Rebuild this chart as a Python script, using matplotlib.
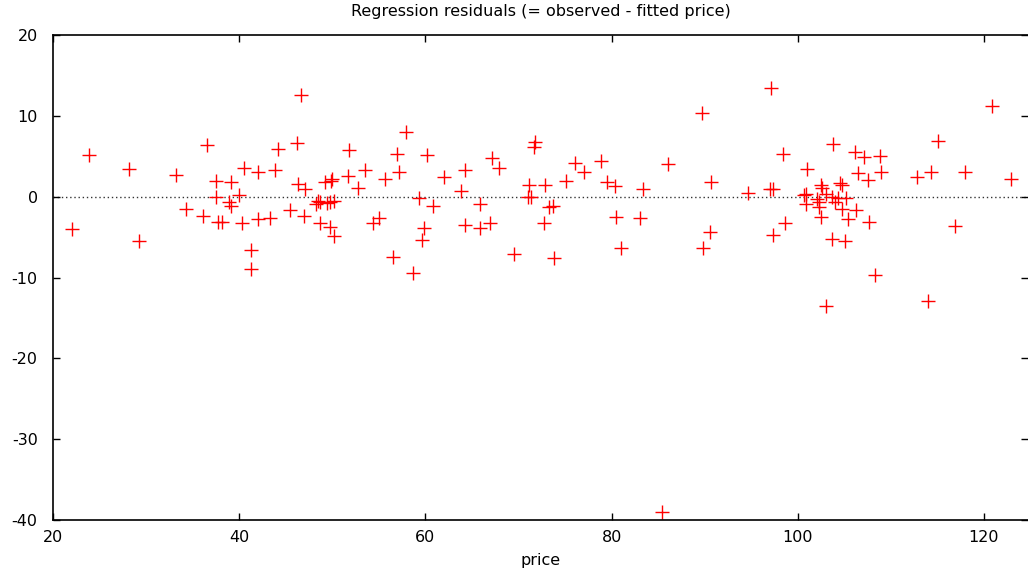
import matplotlib
matplotlib.use("Agg")
import matplotlib.pyplot as plt

plt.rcParams["axes.unicode_minus"] = False

# residuals (price, residual)
price = [
    22.0, 23.9, 28.2, 29.2, 33.2, 34.3, 36.1, 36.5, 37.5, 37.5, 37.7,
    46.6, 44.2, 46.2, 51.8, 40.5, 42.0, 43.8, 51.7, 53.5, 39.1, 46.3,
    47.1, 49.2, 49.9, 50.0, 52.8, 40.0, 38.9, 39.1, 48.5, 48.7, 48.2,
    49.4, 49.8, 50.2, 45.5, 47.0, 38.1, 40.3, 42.0, 43.3, 48.7, 49.8,
    50.2, 54.4, 55.0, 41.3, 41.3,
    57.9, 57.0, 60.2, 67.1, 67.9, 71.8, 71.7, 55.7, 57.2, 62.0, 64.3,
    63.8, 71.1, 71.0, 71.3, 59.3, 60.8, 65.9, 59.8, 59.6, 64.3, 65.9,
    66.9, 56.5, 58.7, 69.5, 72.7,
    76.1, 77.0, 78.9, 86.1, 72.9, 75.1, 79.5, 80.4, 83.4, 73.3, 73.7,
    80.5, 83.1, 73.8, 81.0, 85.4,
    97.1, 89.7, 103.8, 98.4, 106.1, 101.0, 90.7, 94.7, 97.0, 97.3,
    102.5, 102.6, 104.5, 104.8, 106.5, 100.7, 100.9, 103.0, 102.1, 102.3,
    103.7, 104.3, 105.2, 104.0, 100.9, 102.3, 104.8, 106.2, 102.5, 105.4,
    98.6, 90.6, 97.3, 89.8, 103.7, 105.1, 103.0,
    120.9, 115.1, 107.1, 108.8, 107.5, 108.9, 112.8, 114.3, 118.0, 122.9,
    107.6, 116.9, 108.3, 114.0,
]
residual = [
    -4.0, 5.2, 3.4, -5.5, 2.7, -1.5, -2.4, 6.4, 2.0, 0.0, -3.1,
    12.6, 5.9, 6.6, 5.8, 3.6, 3.1, 3.3, 2.6, 3.3, 1.8, 1.6,
    1.0, 1.8, 1.9, 2.2, 1.1, 0.2, -0.7, -1.2, -0.5, -0.7, -0.9,
    -0.8, -0.7, -0.5, -1.6, -2.4, -3.1, -3.3, -2.8, -2.7, -3.3, -3.7,
    -4.9, -3.2, -2.6, -6.6, -9.0,
    8.0, 5.3, 5.1, 4.8, 3.5, 6.8, 6.1, 2.2, 3.0, 2.4, 3.3,
    0.7, 1.4, 0.0, 0.0, -0.2, -1.1, -0.9, -3.9, -5.3, -3.5, -3.9,
    -3.2, -7.5, -9.5, -7.1, -3.2,
    4.2, 3.1, 4.4, 4.0, 1.4, 1.9, 1.8, 1.3, 0.9, -1.3, -1.1,
    -2.5, -2.6, -7.6, -6.4, -39.0,
    13.5, 10.4, 6.5, 5.3, 5.5, 3.4, 1.8, 0.5, 0.9, 1.0,
    1.5, 1.1, 1.7, 1.5, 2.9, 0.2, 0.3, 0.3, -0.3, -0.6,
    -0.1, -0.2, -0.2, -0.6, -0.9, -1.3, -1.5, -1.7, -2.5, -2.8,
    -3.3, -4.4, -4.8, -6.4, -5.2, -5.5, -13.5,
    11.2, 6.9, 4.9, 5.0, 2.1, 3.1, 2.4, 3.0, 3.1, 2.2,
    -3.1, -3.6, -9.7, -12.9,
]

x_ticks = [20, 40, 60, 80, 100, 120]
y_ticks = [20, 10, 0, -10, -20, -30, -40]

fig = plt.figure(figsize=(10.28, 5.73), dpi=100)
ax = fig.add_axes([53 / 1028, 53 / 573, 975 / 1028, 485 / 573])

# dotted zero line
ax.axhline(0, color="black", linestyle=(0, (1, 2)), linewidth=1.0, alpha=0.8)
ax.plot(price, residual, linestyle="none", marker="+", color="red",
        markersize=9.5, markeredgewidth=1.0)

ax.set_xlim(20, 20 + 975 / 9.31)
ax.set_ylim(-40, 20)
ax.set_xticks(x_ticks)
ax.set_yticks(y_ticks)
ax.tick_params(direction="in", length=5, width=1, labelsize=11.5,
               top=True, right=True)
ax.tick_params(axis="x", pad=7)
ax.tick_params(axis="y", pad=11)
ax.spines["right"].set_visible(False)
for s in ["left", "bottom", "top"]:
    ax.spines[s].set_linewidth(1.2)

ax.set_xlabel("price", fontsize=11.5, labelpad=6)
ax.set_title("Regression residuals (= observed - fitted price)",
             fontsize=11.5, pad=14)

fig.savefig("out.png", dpi=100)
